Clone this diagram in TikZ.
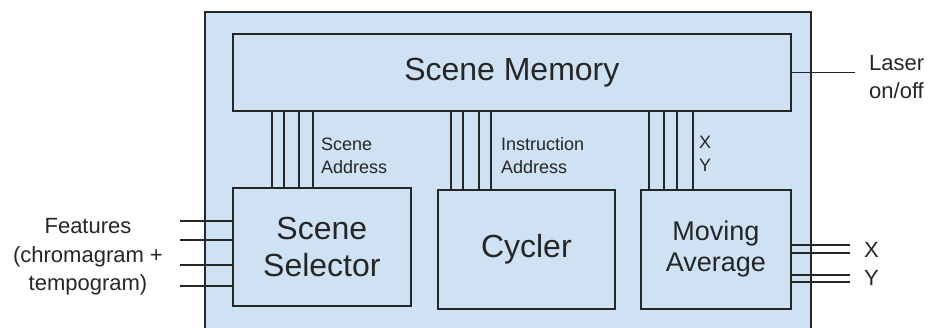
\documentclass[tikz,border=0pt]{standalone}
\usepackage{fontspec}
\setmainfont{Liberation Sans}
\definecolor{boxfill}{HTML}{CFE2F3}
\definecolor{ink}{HTML}{262626}
\begin{document}
\begin{tikzpicture}[x=1pt,y=-1pt,
  blk/.style={draw=ink, fill=boxfill, line width=1.7pt, inner sep=0pt, align=center, anchor=north west, text=ink},
  big/.style={font=\fontsize{32}{37}\selectfont},
  avg/.style={font=\fontsize{27}{31}\selectfont},
  small/.style={font=\fontsize{18}{23}\selectfont, align=left, inner sep=0pt, text=ink},
  mid/.style={font=\fontsize{22}{28.5}\selectfont, align=center, inner sep=0pt, text=ink},
  wire/.style={draw=ink, line width=1.6pt}]
\useasboundingbox (0,0) rectangle (930,327);
\begin{scope}
\clip (0,0) rectangle (930,327);
\node[blk, line width=1.8pt, minimum width=606, minimum height=340] (outer) at (204,11) {};
\end{scope}
\node[blk, big, minimum width=558, minimum height=77] (mem) at (232,33) {Scene Memory};
\node[blk, big, minimum width=178, minimum height=118] (sel) at (232,187) {Scene\\Selector};
\node[blk, big, minimum width=177, minimum height=119] (cyc) at (437,189) {Cycler};
\node[blk, avg, minimum width=150, minimum height=119] (mov) at (640,189) {Moving\\Average};
% buses
\foreach \x in {272,284,299,313} \draw[wire] (\x,0 |- mem.south) -- (\x,0 |- sel.north);
\foreach \x in {451,463,479,491} \draw[wire] (\x,0 |- mem.south) -- (\x,0 |- cyc.north);
\foreach \x in {649,664,677,693} \draw[wire] (\x,0 |- mem.south) -- (\x,0 |- mov.north);
\node[small, anchor=west] (sa) at (321,155.5) {Scene\\Address};
\node[small, anchor=west] (ia) at (501,155.5) {Instruction\\Address};
\node[small, anchor=west] (xy) at (699,154) {X\\Y};
% inputs
\foreach \y in {221,240,265,286} \draw[wire] (sel.west |- 0,\y) -- ++(-52,0);
\node[mid] (feat) at (88,257) {Features\\(chromagram +\\tempogram)};
% laser
\draw[wire] (mem.east) -- ++(63,0) coordinate (lz);
\node[mid, anchor=west, align=left] (laser) at (869,77) {Laser\\on/off};
% outputs
\foreach \y in {245,253,275,282} \draw[wire] (mov.east |- 0,\y) -- ++(58,0);
\node[mid, anchor=west] (ox) at (864,250) {X};
\node[mid, anchor=west] (oy) at (864,278) {Y};
\end{tikzpicture}
\end{document}
